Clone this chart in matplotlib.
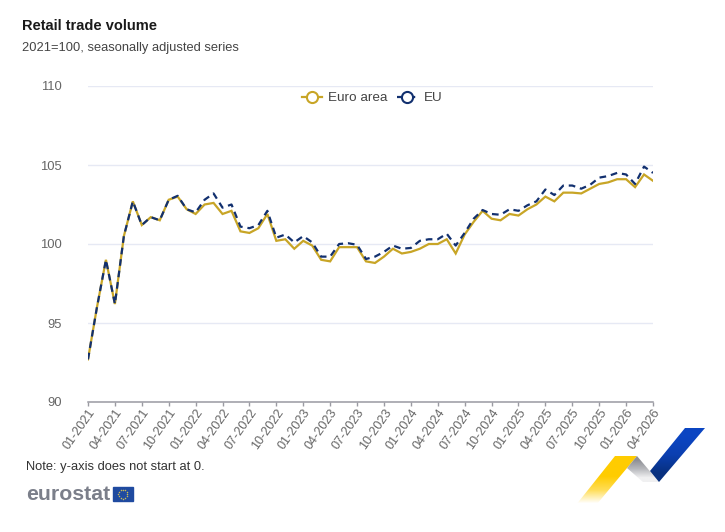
import matplotlib
matplotlib.use("Agg")
import matplotlib.pyplot as plt
import numpy as np
from matplotlib.lines import Line2D
from matplotlib.patches import Polygon, Rectangle
from matplotlib.transforms import ScaledTranslation

plt.rcParams['font.family'] = ['Liberation Sans', 'DejaVu Sans']

months = ["01", "02", "03", "04", "05", "06", "07", "08", "09", "10", "11", "12"]
periods = [f"{m}-{y}" for y in range(2021, 2027) for m in months][:64]

euro_area = [92.7, 96.0, 99.0, 96.2, 100.5, 102.7, 101.2, 101.7, 101.5, 102.8, 103.0, 102.2,
             101.9, 102.5, 102.6, 101.9, 102.1, 100.8, 100.7, 101.0, 101.9, 100.2, 100.3, 99.7,
             100.2, 99.9, 99.0, 98.9, 99.8, 99.8, 99.8, 98.9, 98.8, 99.2, 99.7, 99.4,
             99.5, 99.7, 100.0, 100.0, 100.3, 99.4, 100.6, 101.4, 102.1, 101.6, 101.5, 101.9,
             101.8, 102.2, 102.5, 103.0, 102.7, 103.25, 103.25, 103.2, 103.5, 103.8, 103.9, 104.1,
             104.1, 103.6, 104.4, 104.0]
eu = [92.7, 96.0, 99.0, 96.2, 100.5, 102.7, 101.2, 101.7, 101.5, 102.8, 103.05, 102.2,
      102.0, 102.8, 103.2, 102.3, 102.5, 101.1, 101.0, 101.2, 102.1, 100.4, 100.6, 100.1,
      100.5, 100.1, 99.2, 99.2, 100.0, 100.05, 99.95, 99.05, 99.2, 99.5, 99.9, 99.7,
      99.75, 100.2, 100.3, 100.3, 100.65, 99.9, 100.7, 101.6, 102.15, 101.9, 101.85, 102.2,
      102.1, 102.45, 102.7, 103.45, 103.1, 103.7, 103.7, 103.5, 103.75, 104.2, 104.3, 104.5,
      104.4, 103.8, 104.9, 104.5]
y_ticks = [90, 95, 100, 105, 110]

YELLOW = "#C8A526"
NAVY = "#12306F"
GREY = "#666666"

W, H = 725, 532
fig = plt.figure(figsize=(W / 100, H / 100), dpi=100)
ax = fig.add_axes([88 / W, 1 - 402 / H, (653 - 88) / W, (402 - 86) / H])

x = np.arange(len(periods))
ax.plot(x, euro_area, color=YELLOW, lw=1.6, solid_joinstyle="miter", zorder=3)
ax.plot(x, eu, color=NAVY, lw=1.6, dashes=(3.0, 2.2), zorder=4)

ax.set_xlim(0, len(periods) - 1)
ax.set_ylim(90, 110)
ax.set_yticks(y_ticks)
ax.set_xticks(x[::3])
ax.set_xticklabels(periods[::3], rotation=55, ha="right", va="top",
                   rotation_mode="anchor", fontsize=9.1, color=GREY)
# nudge the slanted labels so their ends sit just right of each tick
shift = ScaledTranslation(1 / 100, 0, fig.dpi_scale_trans)
for lab in ax.get_xticklabels():
    lab.set_transform(lab.get_transform() + shift)
ax.tick_params(axis="x", length=3, width=1, color="#9a9aa2", pad=0.5)
ax.tick_params(axis="y", length=0, labelsize=9.4, labelcolor=GREY, pad=18.7)
ax.grid(axis="y", color="#e6e9f4", lw=1)
ax.set_axisbelow(True)
for side in ["top", "right", "left"]:
    ax.spines[side].set_visible(False)
ax.spines["bottom"].set_color("#9a9aa2")
ax.spines["bottom"].set_linewidth(1.1)

handles = [
    Line2D([], [], color=YELLOW, lw=1.6, marker="o", ms=8, mfc="white", mew=1.5),
    Line2D([], [], color=NAVY, lw=1.6, dashes=(3.0, 2.2), marker="o", ms=8, mfc="white", mew=1.5),
]
ax.legend(handles, ["Euro area", "EU"], loc="center", bbox_to_anchor=(0.503, 0.962), ncols=2,
          frameon=False, fontsize=9.7, labelcolor="#444444", columnspacing=0.7,
          handlelength=1.5, handletextpad=0.45)

# page-level overlay in pixel units for the header, note and logos
over = fig.add_axes([0, 0, 1, 1], zorder=5)
over.set_xlim(0, W)
over.set_ylim(H, 0)
over.axis("off")

over.text(22, 25.5, "Retail trade volume", fontsize=10.5, fontweight="bold", color="#1a1a1a", va="center")
over.text(22, 47.5, "2021=100, seasonally adjusted series", fontsize=9.3, color="#444444", va="center")
over.text(26, 467, "Note: y-axis does not start at 0.", fontsize=9.3, color="#333333", va="center")

over.text(26, 494, "eurostat", fontsize=15.3, fontweight="bold", color="#7b7f8a", va="center")
over.add_patch(Rectangle((113, 487), 20, 14, color="#1F4AA0"))
angles = np.linspace(0, 2 * np.pi, 12, endpoint=False)
over.scatter(123 + 4.5 * np.cos(angles), 494 + 4.5 * np.sin(angles), s=1.2, color="#C9B95A", lw=0)


def gradient_band(points, colors, extent):
    # vertical colour ramp clipped to the band outline
    rgba = np.array([matplotlib.colors.to_rgba(c) for c in colors])
    img = over.imshow(rgba[:, None, :], extent=extent, aspect="auto", interpolation="bilinear", zorder=2)
    img.set_clip_path(Polygon(points, transform=over.transData))


gradient_band([(572, 510), (592, 510), (637, 456), (615, 456)],
              ["#FFCC00", "#FFCC00", "#FFDD55", "#FFFFFF"], (572, 637, 510, 456))
gradient_band([(627, 468), (637, 456), (659, 482), (643, 482)],
              ["#8f9096", "#b8b9bd", "#f0f0f1"], (627, 659, 482, 456))
gradient_band([(650, 471), (685, 428), (705, 428), (659, 482)],
              ["#0B45C2", "#0B3FB0", "#08307F"], (650, 705, 482, 428))
over.set_xlim(0, W)
over.set_ylim(H, 0)

fig.savefig("out.png", dpi=100)
